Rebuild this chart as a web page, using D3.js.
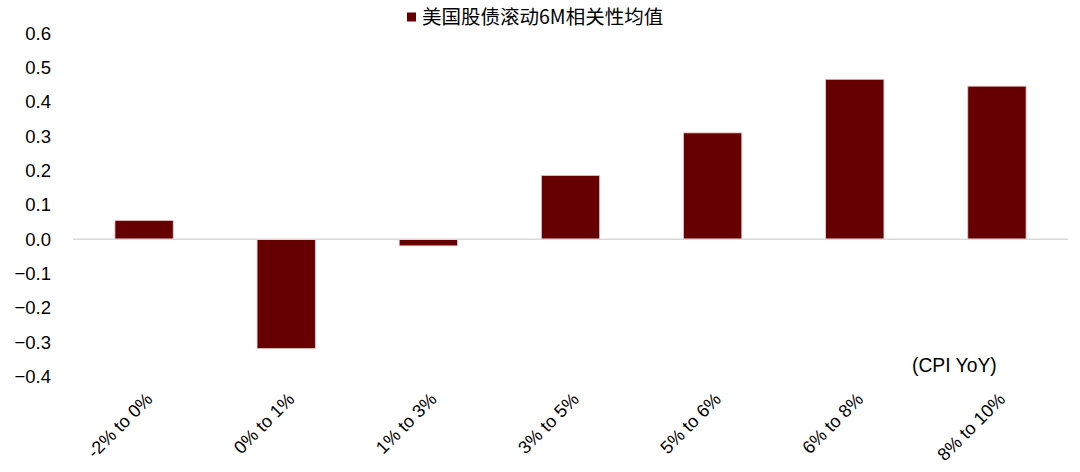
<!DOCTYPE html>
<html><head><meta charset="utf-8">
<script src="https://cdn.jsdelivr.net/npm/d3@7"></script>
<style>body{margin:0;background:#fff}svg{display:block}</style>
</head><body>
<svg id="c" width="1080" height="472"></svg>
<script>
const categories = ["-2% to 0%","0% to 1%","1% to 3%","3% to 5%","5% to 6%","6% to 8%","8% to 10%"];
const values = [0.055,-0.318,-0.019,0.186,0.31,0.466,0.446];
const yTicks = [0.6,0.5,0.4,0.3,0.2,0.1,0.0,-0.1,-0.2,-0.3,-0.4];
const seriesName = "美国股债滚动6M相关性均值";
const unitLabel = "(CPI YoY)";

(function(){
const svg = d3.select("#c");
const mLeft = 73, mRight = 1068, mTop = 33.3, mBottom = 376.7;
const x = d3.scaleBand().domain(categories).range([mLeft,mRight]).paddingInner(0.59).paddingOuter(0.295);
const y = d3.scaleLinear().domain([-0.4,0.6]).range([mBottom,mTop]);
const font = "'Liberation Sans', Arial, sans-serif";

// y axis labels
const yAxis = d3.axisLeft(y).tickValues(yTicks).tickFormat(d3.format(".1f")).tickSize(0).tickPadding(0);
const gy = svg.append("g").attr("transform","translate(51,0)").call(yAxis);
gy.select(".domain").remove();
gy.selectAll("text").attr("font-family",font).attr("font-size",18.5).attr("fill","#000");

// bars
svg.append("g").selectAll("rect").data(values).join("rect")
  .attr("x",(d,i)=>x(categories[i]))
  .attr("width",x.bandwidth())
  .attr("y",d=>y(Math.max(0,d)))
  .attr("height",d=>Math.abs(y(d)-y(0)))
  .attr("fill","#660000")
  .attr("stroke","#e6c8c8").attr("stroke-width",0.8);

// zero line
svg.append("line").attr("x1",mLeft).attr("x2",mRight).attr("y1",y(0)).attr("y2",y(0))
  .attr("stroke","#d9d9d9").attr("stroke-width",1.5);

// x labels
const xAxis = d3.axisBottom(x).tickSize(0).tickPadding(0);
const gx = svg.append("g").attr("transform","translate(0,396)").call(xAxis);
gx.select(".domain").remove();
gx.selectAll("text").attr("font-family",font).attr("font-size",18).attr("fill","#000")
  .attr("text-anchor","end").attr("dy","0.35em")
  .attr("transform","translate(5,0) rotate(-45)");

// legend
svg.append("rect").attr("x",407).attr("y",12.5).attr("width",9).attr("height",9).attr("fill","#660000");
svg.append("text").attr("x",422).attr("y",24).attr("font-family","'Noto Sans CJK SC', "+font)
  .attr("font-size",19.5).attr("fill","#000").text(seriesName);

// unit label
svg.append("text").attr("x",912).attr("y",372).attr("font-family",font).attr("font-size",19.3).attr("fill","#000").text(unitLabel);
})();
</script>
</body></html>
